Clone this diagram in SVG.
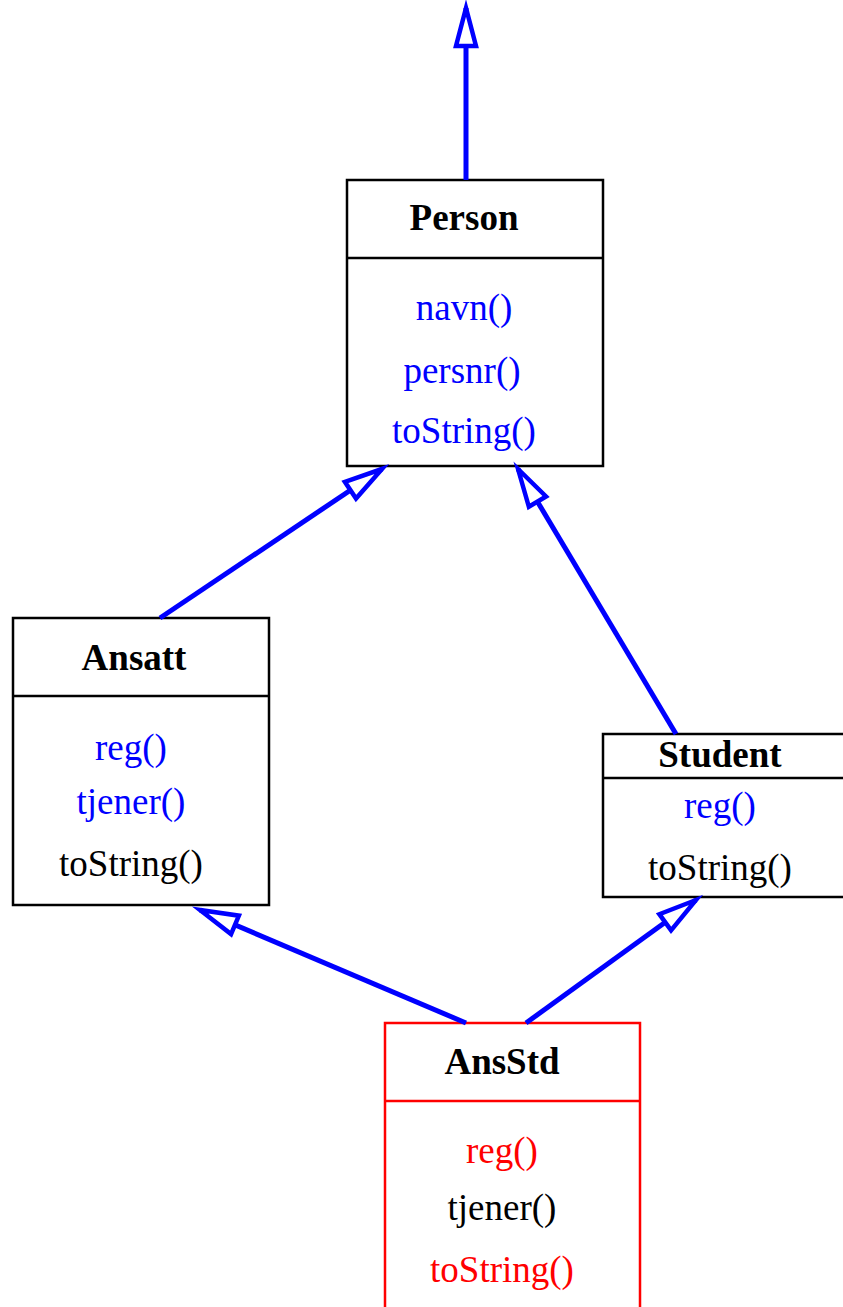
<svg xmlns="http://www.w3.org/2000/svg" width="843" height="1307" viewBox="0 0 843 1307">
<style>
.box{fill:#fff;stroke:#000;stroke-width:2.5}
.red{fill:#fff;stroke:#f00;stroke-width:2.5}
.div{stroke:#000;stroke-width:2.5}
.divr{stroke:#f00;stroke-width:2.5}
text{font-family:"Liberation Serif","Times New Roman",serif;font-size:37px;text-anchor:middle}
.t{font-weight:bold;fill:#000}
.b{fill:#00f}
.k{fill:#000}
.r{fill:#f00}
.c{stroke:#00f;stroke-width:5;fill:none}
</style>
<defs>
<marker id="tri" markerUnits="userSpaceOnUse" viewBox="-42 -14 46 28" refX="0" refY="0" markerWidth="46" markerHeight="28" orient="auto" overflow="visible">
<path d="M0,0 L-38,-10 L-38,10 Z" fill="#fff" stroke="#00f" stroke-width="4.5"/>
</marker>
</defs>
<g id="Person">
<rect class="box" x="347" y="180" width="256" height="286"/>
<line class="div" x1="347" y1="258" x2="603" y2="258"/>
<text class="t" x="464" y="230">Person</text>
<text class="b" x="464" y="320">navn()</text>
<text class="b" x="462" y="383">persnr()</text>
<text class="b" x="464" y="443">toString()</text>
</g>
<g id="Ansatt">
<rect class="box" x="13" y="618" width="256" height="287"/>
<line class="div" x1="13" y1="696" x2="269" y2="696"/>
<text class="t" x="134" y="670">Ansatt</text>
<text class="b" x="131" y="760">reg()</text>
<text class="b" x="131" y="814">tjener()</text>
<text class="k" x="131" y="876">toString()</text>
</g>
<g id="Student">
<rect class="box" x="603" y="734" width="250" height="163"/>
<line class="div" x1="603" y1="778" x2="853" y2="778"/>
<text class="t" x="720" y="767">Student</text>
<text class="b" x="720" y="818">reg()</text>
<text class="k" x="720" y="880">toString()</text>
</g>
<g id="AnsStd">
<rect class="red" x="385" y="1023" width="255" height="300"/>
<line class="divr" x1="385" y1="1101" x2="640" y2="1101"/>
<text class="t" x="502" y="1074">AnsStd</text>
<text class="r" x="502" y="1163">reg()</text>
<text class="k" x="502" y="1220">tjener()</text>
<text class="r" x="502" y="1282">toString()</text>
</g>
<g id="connectors">
<line class="c" x1="466" y1="180" x2="466" y2="8" marker-end="url(#tri)"/>
<line class="c" x1="160" y1="618" x2="382" y2="469" marker-end="url(#tri)"/>
<line class="c" x1="676" y1="734" x2="518" y2="469" marker-end="url(#tri)"/>
<line class="c" x1="466" y1="1023" x2="200" y2="910" marker-end="url(#tri)"/>
<line class="c" x1="526" y1="1023" x2="696" y2="900" marker-end="url(#tri)"/>
</g>
</svg>
